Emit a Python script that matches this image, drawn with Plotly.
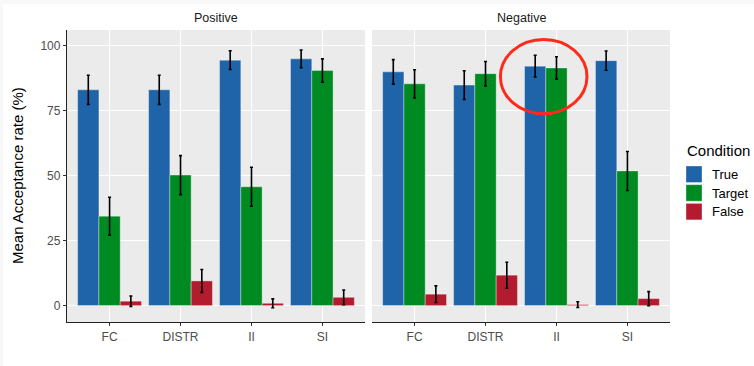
import plotly.graph_objects as go

# ---- data ----
tasks = ["FC", "DISTR", "II", "SI"]
conditions = ["True", "Target", "False"]
colors = ["#1F64A8", "#008A22", "#B31B2F"]

pos_true = [83.0, 83.0, 94.4, 94.9]
pos_true_se = [5.6, 5.6, 3.6, 3.4]
pos_target = [34.4, 50.2, 45.7, 90.4]
pos_target_se = [7.3, 7.5, 7.5, 4.5]
pos_false = [1.7, 9.5, 0.9, 3.2]
pos_false_se = [2.0, 4.4, 1.7, 2.8]

neg_true = [89.9, 84.8, 92.1, 94.2]
neg_true_se = [4.7, 5.5, 4.2, 3.7]
neg_target = [85.3, 89.2, 91.4, 51.8]
neg_target_se = [5.4, 4.7, 4.3, 7.5]
neg_false = [4.4, 11.7, 0.4, 2.7]
neg_false_se = [3.2, 5.0, 1.1, 2.7]

y_ticks = [0, 25, 50, 75, 100]
panel_titles = ["Positive", "Negative"]

W, H = 754, 366
FONT = "Liberation Sans, Arial, Helvetica, sans-serif"

panels = [
    ("x", "y", [pos_true, pos_target, pos_false], [pos_true_se, pos_target_se, pos_false_se]),
    ("x2", "y2", [neg_true, neg_target, neg_false], [neg_true_se, neg_target_se, neg_false_se]),
]

fig = go.Figure()
for xa, ya, vals, ses in panels:
    for name, col, v, e in zip(conditions, colors, vals, ses):
        fig.add_trace(go.Bar(
            x=tasks, y=v, name=name, xaxis=xa, yaxis=ya,
            marker=dict(color=col, line=dict(color="rgba(255,255,255,0.35)", width=1)),
            error_y=dict(type="data", array=e, visible=True, color="black",
                         thickness=1.6, width=1.5),
            showlegend=False, offsetgroup=name,
        ))

# panel geometry (pixels)
px1 = (67, 365)
px2 = (372, 670)
py_top, py_bot = 30, 322
ydom = [(H - py_bot) / H, (H - py_top) / H]
yrange = [-6.3, 106.0]
xrange_ = [-0.6, 3.6]

axis_common = dict(
    showgrid=True, gridcolor="white", gridwidth=1.2, zeroline=False,
    ticks="outside", ticklen=3, tickcolor="#333333", tickwidth=1,
    tickfont=dict(family=FONT, size=12, color="#4D4D4D"),
)

fig.update_layout(
    width=W, height=H,
    margin=dict(l=0, r=0, t=0, b=0),
    paper_bgcolor="white", plot_bgcolor="#EBEBEB",
    barmode="group", bargap=0.1, bargroupgap=0,
    font=dict(family=FONT),
    xaxis=dict(domain=[px1[0] / W, px1[1] / W], range=xrange_, anchor="y",
               showline=True, linecolor="#222222", linewidth=1.3, **axis_common),
    xaxis2=dict(domain=[px2[0] / W, px2[1] / W], range=xrange_, anchor="y2",
                showline=True, linecolor="#222222", linewidth=1.3, **axis_common),
    yaxis=dict(domain=ydom, range=yrange, anchor="x", tickvals=y_ticks,
               showline=True, linecolor="#222222", linewidth=1.3, **axis_common),
    yaxis2=dict(domain=ydom, range=yrange, anchor="x2", tickvals=y_ticks,
                showticklabels=False, **{**axis_common, "ticks": ""}),
)

# light frame along the top and left edges
fig.add_shape(type="rect", xref="paper", yref="paper", x0=0, x1=1,
              y0=(H - 4) / H, y1=1, fillcolor="#F8F8F8", line_width=0, layer="below")
fig.add_shape(type="rect", xref="paper", yref="paper", x0=0, x1=3 / W,
              y0=0, y1=1, fillcolor="#F8F8F8", line_width=0, layer="below")

# facet titles
for title, (a, b) in zip(panel_titles, [px1, px2]):
    fig.add_annotation(text=title, xref="paper", yref="paper",
                       x=(a + b) / 2 / W, y=(H - 18) / H, showarrow=False,
                       font=dict(family=FONT, size=12.5, color="#1A1A1A"),
                       xanchor="center", yanchor="middle")

# y-axis title
fig.add_annotation(text="Mean Acceptance rate (%)", xref="paper", yref="paper",
                   x=17 / W, y=(H - 176) / H, textangle=-90, showarrow=False,
                   font=dict(family=FONT, size=15, color="black"),
                   xanchor="center", yanchor="middle")

# legend
fig.add_annotation(text="Condition", xref="paper", yref="paper",
                   x=685 / W, y=(H - 150) / H, showarrow=False,
                   font=dict(family=FONT, size=15, color="black"),
                   xanchor="left", yanchor="middle")
for i, (name, col) in enumerate(zip(conditions, colors)):
    top = 166 + i * 18.7
    fig.add_shape(type="rect", xref="paper", yref="paper",
                  x0=686 / W, x1=702 / W, y0=(H - top - 16.5) / H, y1=(H - top) / H,
                  fillcolor=col, line=dict(color="rgba(255,255,255,0.35)", width=1))
    fig.add_annotation(text=name, xref="paper", yref="paper",
                       x=710 / W, y=(H - top - 8.3) / H, showarrow=False,
                       font=dict(family=FONT, size=13, color="black"),
                       xanchor="left", yanchor="middle")

# highlight ring around the Negative / II pair
fig.add_shape(type="circle", xref="x2", yref="y2",
              x0=1.21, x1=2.43, y0=73.8, y1=102.3,
              line=dict(color="#FF2A1A", width=3))

fig.write_html("out.html")
